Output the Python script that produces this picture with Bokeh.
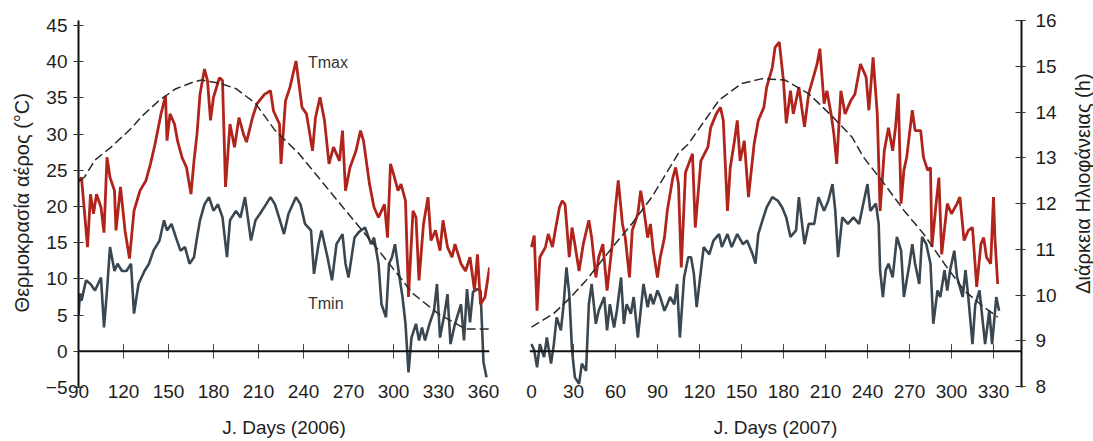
import math
from bokeh.plotting import figure
from bokeh.models import Range1d, LinearAxis, FixedTicker, Span, Label
from bokeh.layouts import row
from bokeh.embed import file_html
from bokeh.resources import INLINE
from bokeh.core.properties import value

FONT = "Liberation Sans"

# ---------------- data ----------------
tmax06_days = [90,92,96,98,100,102,105,107,109,111,114,115,118,121,124,127,129,131,135,138,
               141,145,148,149,151,154,156,159,162,165,167,169,171,174,176,178,180,184,186,188,
               191,194,197,200,202,206,209,214,218,220,224,225,228,231,235,237,239,242,246,248,
               251,254,257,260,264,266,268,271,275,278,280,284,287,290,294,296,298,300,303,305,
               308,310,313,315,317,320,323,325,328,331,333,336,339,341,345,348,351,354,356,358,
               361,364]
tmax06 = [23.5,24,14.4,21.7,19,21.7,19.9,16.4,26.8,24,22.2,16.7,22.7,16.7,12.8,19.4,20.8,22.2,23.6,25.9,
          28.6,32.8,35.3,29.1,32.8,31.4,29.1,26.8,25.4,21.7,26.3,30,35.5,39,37.4,31.9,35.1,37.8,37.4,22.7,
          31.4,28.2,32.3,30,28.9,32.3,34.2,35.5,36,33.2,31.4,25.9,34.6,36.5,40.1,36.9,33.7,32.8,27.7,32.3,
          35.1,31.9,25.9,28.2,26.3,30.5,22.2,25.4,27.7,30.5,29.1,23.1,19.9,18.5,20.3,15.7,25.9,24.5,22.2,23.1,
          20.8,7.5,19.4,18.5,9.8,17.6,21.3,15.3,16.7,13.9,18.1,14.4,13,14.8,12.1,11.1,13,8.4,13.4,6.5,
          7.5,11.6]

tmin06_days = [90,91,92,95,98,101,105,107,109,111,114,116,119,122,125,127,130,134,137,140,
               144,147,149,152,155,158,161,164,167,169,171,174,177,180,183,186,189,191,195,198,
               201,205,208,211,215,218,221,225,227,230,235,238,241,245,247,250,252,256,259,262,
               266,268,270,274,277,281,285,287,290,292,295,297,299,301,304,306,308,310,312,315,
               317,319,321,324,327,329,331,334,336,338,341,345,347,349,351,353,356,358,360,362]
tmin06 = [5,8,7,9.8,9.3,8.4,10.2,3.3,8.4,14.4,11.1,12.1,11.1,11.1,12.1,5.2,9.3,11.1,12.1,13.9,
          15.3,18.1,16.7,17.6,15.7,13.9,14.4,12.1,13,15.7,18.1,20.3,21.3,19.4,20.3,18.5,13,18.1,19.4,18.5,
          21.3,15.3,18.1,19,20.3,21.3,20.3,17.6,16.2,19,21.3,20.3,17.6,16.7,10.7,14.8,16.7,13,9.8,14.8,
          16.2,12.1,10.2,15.7,16.5,17.1,14.8,15.7,12.1,6.5,4.7,12.1,13,14.8,10.2,7.5,3.8,-2.9,1.9,3.8,
          1.5,3.3,1.5,3.8,5.6,9.3,1.9,5.2,7.9,1,3.8,6.5,1.5,8.6,4,8.2,8.6,8.4,-1.5,-3.6]

tmax07_days = [0,2,4,6,10,12,15,17,20,22,24,27,29,31,34,37,41,43,46,48,
               51,54,58,60,62,65,67,70,72,76,78,80,83,85,87,90,92,95,97,101,
               103,105,107,110,115,117,121,126,128,132,135,137,140,142,145,147,149,152,155,159,
               162,166,168,172,174,177,180,182,185,187,191,195,198,202,204,206,209,211,214,216,
               218,221,224,228,231,235,239,241,244,247,249,252,255,258,260,262,264,266,268,272,
               274,278,280,283,285,286,289,291,293,297,300,304,306,309,312,315,318,321,323,325,
               328,330,331,333]
tmax07 = [14.4,16,5.6,13,14.4,16.2,14.4,16.7,19.9,20.8,20.3,13,17.1,14.8,11.1,14.8,18.1,15.7,10.2,13,
          14.8,8.4,15.3,19.9,23.6,17.6,15.7,10.2,16.7,19,22.2,19.9,15.7,17.6,13.9,10.2,13,15.7,19.4,24,
          25.4,23.1,11.6,24.7,27.3,17.1,26.3,28.2,30.9,32.8,33.7,31.9,19.4,25.4,29.1,31.9,26.3,29.1,21.3,28.6,
          31.9,33.7,36.5,39.2,42,42.7,37.4,31.5,36,32.8,36.5,31,35.6,38.3,39.7,41.8,34.2,36,32.8,30,
          25.9,36,32.8,34.6,35.5,39.7,37.9,33.3,40.6,32.8,19.4,27.7,30.9,27.7,30.9,35.6,20.4,25,26.8,33.3,
          30.5,30.5,26.8,25,25.4,14.4,20.4,24,13.4,20.4,19,20.4,21.3,15.3,16.7,17.1,8.9,14.8,15.7,13,
          12.1,21.3,15.7,9.3]

tmin07_days = [0,2,4,6,9,11,14,16,18,21,23,25,27,29,31,34,36,39,41,43,
               46,48,52,54,56,59,61,64,66,68,71,73,76,78,80,83,85,87,90,92,
               95,97,99,102,104,106,109,112,114,116,118,121,123,127,130,134,136,140,143,147,
               151,154,158,160,162,165,168,172,176,179,182,185,189,191,195,198,202,205,209,212,
               215,217,219,222,226,230,234,237,240,242,246,248,249,251,253,255,258,261,264,266,
               270,272,274,277,279,282,285,287,290,292,295,297,299,302,304,308,310,312,315,317,
               320,322,324,327,329,332,334]
tmin07 = [1,0.1,-2.2,1,-0.8,1.9,-1.7,1,4.7,2.9,6.5,11.6,7.9,0.1,-3.6,-4.5,-1.7,-2.7,6.5,9.3,
          3.8,5.6,7.5,2.9,6.5,3.3,5.6,10.2,3.8,6.5,5.2,7.5,1.9,5.6,9.3,6.1,7.9,6.5,8.4,7.5,
          5.6,6.5,7.5,6.5,9.3,1.9,10.2,13,13,10.7,6.1,11.1,14.4,13.4,15.3,16.2,14.4,16.2,14.4,16.2,
          14.8,15.3,13.4,12.1,16.2,18.1,19.9,21.3,20.8,19.9,18.5,15.8,16.7,21.3,14.8,17.6,17.6,21.3,19.4,20.8,
          23.1,19.4,13,18.5,17.6,18.5,17.6,20.4,23.1,19.4,20.4,17.6,11.2,7.5,11.2,12.1,10.2,15.8,13.9,7.5,
          12.1,14.8,12.1,9.3,15.8,14.8,12.1,3.8,8.4,7.5,11.2,8.4,11.2,13.9,10.2,7.5,11.2,7.5,1,6.5,
          8.4,4.7,1,5.6,1,7.5,5.6]

daylen06_days = [91,94,101,112,126,132,144,155,167,172,184,195,208,221,237,248,257,268,290,313,330,348,364]
daylen06 = [12.5,12.58,12.95,13.24,13.67,13.9,14.26,14.51,14.66,14.7,14.63,14.51,14.19,13.6,13.09,
            12.65,12.29,11.85,10.98,10.03,9.59,9.26,9.26]

daylen07_days = [0,16,28,39,58,72,86,105,112,134,150,165,181,198,215,229,237,252,266,280,295,309,323,333]
daylen07 = [9.3,9.6,9.95,10.32,11.05,11.57,12.14,13.1,13.3,14.26,14.62,14.73,14.7,14.4,13.9,13.45,
            13.02,12.43,11.85,11.34,10.68,10.1,9.74,9.52]

xticks06 = [90,120,150,180,210,240,270,300,330,360]
xticks07 = [0,30,60,90,120,150,180,210,240,270,300,330]
temp_ticks = [-5,0,5,10,15,20,25,30,35,40,45]
hour_ticks = [8,9,10,11,12,13,14,15,16]

left_title = "Θερμοκρασία αέρος (°C)"
right_title = "Διάρκεια Ηλιοφάνειας (h)"

# ---------------- styling ----------------
RED = "#b0241b"
GREY = "#3a4751"
DASH = "#2a2a2a"
TXT = "#1e1e1e"
H = 441


def base(p):
    p.xgrid.visible = False
    p.ygrid.visible = False
    p.outline_line_color = None
    p.background_fill_color = "white"
    p.border_fill_color = "white"


def style_xaxis(ax, ticks, label):
    ax.ticker = FixedTicker(ticks=ticks)
    ax.axis_line_color = None
    ax.major_tick_line_color = None
    ax.minor_tick_line_color = None
    ax.major_label_standoff = -9
    ax.major_label_text_font = FONT
    ax.major_label_text_font_size = "19px"
    ax.major_label_text_color = TXT
    ax.axis_label = label
    ax.axis_label_text_font = FONT
    ax.axis_label_text_font_size = "19px"
    ax.axis_label_text_font_style = "normal"
    ax.axis_label_text_color = TXT
    ax.axis_label_standoff = 16


def style_yaxis(ax, ticks):
    ax.ticker = FixedTicker(ticks=ticks)
    ax.major_tick_in = 5
    ax.major_tick_out = 5
    ax.minor_tick_line_color = None
    ax.axis_line_width = 2
    ax.axis_line_color = "#111111"
    ax.major_tick_line_color = "#333333"
    ax.major_label_standoff = 6
    ax.major_label_text_font = FONT
    ax.major_label_text_font_size = "19px"
    ax.major_label_text_color = TXT


def title_strip(width, text, cx, cy):
    """A narrow figure holding a vertical axis title (reads bottom to top)."""
    p = figure(width=width, height=H, x_range=Range1d(0, width), y_range=Range1d(0, H),
               output_backend="svg", toolbar_location=None,
               x_axis_location=None, y_axis_location=None, min_border=0)
    base(p)
    p.text(x=[cx], y=[H - cy], text=[text], angle=math.pi / 2,
           text_align="center", text_baseline="middle",
           text_font=value(FONT), text_font_size="20px", text_color=TXT)
    return p


# ---------------- left title strip ----------------
p0 = title_strip(34, left_title, 21, 219)

# ---------------- 2006 panel ----------------
p1 = figure(width=476, height=H, x_range=Range1d(90, 364), y_range=Range1d(-5, 45.7),
            output_backend="svg", toolbar_location=None,
            min_border_left=44, min_border_right=21, min_border_top=20, min_border_bottom=54)
p1.extra_y_ranges = {"dl": Range1d(7.98, 16)}
base(p1)
style_xaxis(p1.xaxis[0], xticks06, "J. Days (2006)")
style_yaxis(p1.yaxis[0], temp_ticks)

p1.add_layout(Span(location=0, dimension="width", line_color="#111111", line_width=2))
t06 = [t for t in xticks06 if t > 90]
p1.segment(x0=t06, y0=[-1.0] * len(t06), x1=t06, y1=[1.0] * len(t06),
           line_color="#444444", line_width=1)
p1.line(tmin06_days, tmin06, line_color=GREY, line_width=2.6)
p1.line(tmax06_days, tmax06, line_color=RED, line_width=2.8)
p1.line(daylen06_days, daylen06, y_range_name="dl", line_color=DASH, line_width=1.5,
        line_dash="9 4")

p1.add_layout(Label(x=243, y=39.9, text="Tmax", text_align="left", text_baseline="middle",
                    text_font=FONT, text_font_size="16px", text_color="#333333"))
p1.add_layout(Label(x=243, y=6.6, text="Tmin", text_align="left", text_baseline="middle",
                    text_font=FONT, text_font_size="16px", text_color="#333333"))

# ---------------- 2007 panel ----------------
p2 = figure(width=553, height=H, x_range=Range1d(-1.4, 350), y_range=Range1d(-5, 45.7),
            output_backend="svg", toolbar_location=None, y_axis_location=None,
            min_border_left=19, min_border_right=42, min_border_top=20, min_border_bottom=54)
p2.extra_y_ranges = {"dl": Range1d(7.98, 16)}
base(p2)
style_xaxis(p2.xaxis[0], xticks07, "J. Days (2007)")
ra = LinearAxis(y_range_name="dl")
style_yaxis(ra, hour_ticks)
ra.major_tick_in = 6
ra.major_tick_out = 4
ra.major_label_standoff = 10
p2.add_layout(ra, "right")

p2.add_layout(Span(location=0, dimension="width", line_color="#111111", line_width=2))
t07 = [t for t in xticks07 if t > 0]
p2.segment(x0=t07, y0=[-1.0] * len(t07), x1=t07, y1=[1.0] * len(t07),
           line_color="#444444", line_width=1)
p2.line(tmin07_days, tmin07, line_color=GREY, line_width=2.6)
p2.line(tmax07_days, tmax07, line_color=RED, line_width=2.8)
p2.line(daylen07_days, daylen07, y_range_name="dl", line_color=DASH, line_width=1.5,
        line_dash="9 4")

# ---------------- right title strip ----------------
p3 = title_strip(30, right_title, 19, 196)

layout = row(p0, p1, p2, p3)
open("out.html", "w").write(file_html(layout, INLINE))
